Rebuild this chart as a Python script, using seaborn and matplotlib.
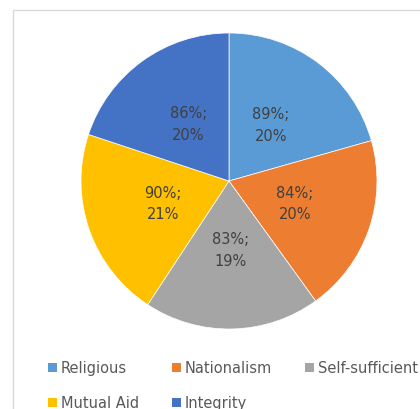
import matplotlib
matplotlib.use("Agg")
import matplotlib.pyplot as plt
from matplotlib.patches import Rectangle, Patch
import seaborn as sns

categories = ["Religious", "Nationalism", "Self-sufficient", "Mutual Aid", "Integrity"]
values = [89, 84, 83, 90, 86]
shares = [20, 20, 19, 21, 20]
colors = ["#5B9BD5", "#ED7D31", "#A5A5A5", "#FFC000", "#4472C4"]

sns.set_theme(style="white")
plt.rcParams['font.family'] = ['DejaVu Sans']

fig = plt.figure(figsize=(4.2, 4.09), dpi=100)
W, H = 420, 409
# chart frame
fig.patches.append(Rectangle((13 / W, -0.1), 1.2, (H - 10) / H + 0.1, transform=fig.transFigure,
                             fill=False, edgecolor="#D9D9D9", linewidth=1.0))

cx, cy, r = 229, 181, 148
ax = fig.add_axes([(cx - r) / W, (H - cy - r) / H, 2 * r / W, 2 * r / H])
labels_txt = [f"{v}%;\n{s}%" for v, s in zip(values, shares)]
wedges, texts = ax.pie(values, colors=colors, startangle=90, counterclock=False,
                       labels=labels_txt, labeldistance=0.47, radius=1,
                       wedgeprops=dict(edgecolor="white", linewidth=0.5),
                       textprops=dict(color="#404040", fontsize=10.5, ha="center", va="center",
                                      linespacing=1.55))
for t in texts:
    t.set_ha("center")
ax.set_xlim(-1, 1)
ax.set_ylim(-1, 1)
ax.set_aspect("equal")
ax.axis("off")

# legend laid out row-major like the reference (matplotlib fills column-major)
order = [0, 3, 1, 4, 2]
handles = [Patch(facecolor=colors[i], edgecolor="none") for i in order]
leg = fig.legend(handles, [categories[i] for i in order], ncol=3, loc="upper left",
                 bbox_to_anchor=(42 / W, 1 - 355 / H), frameon=False,
                 fontsize=10.5, handlelength=0.6, handleheight=0.6, handletextpad=0.3,
                 columnspacing=2.25, labelspacing=1.35, borderaxespad=0)
for t in leg.get_texts():
    t.set_color("#595959")

fig.savefig("out.png", dpi=100)
